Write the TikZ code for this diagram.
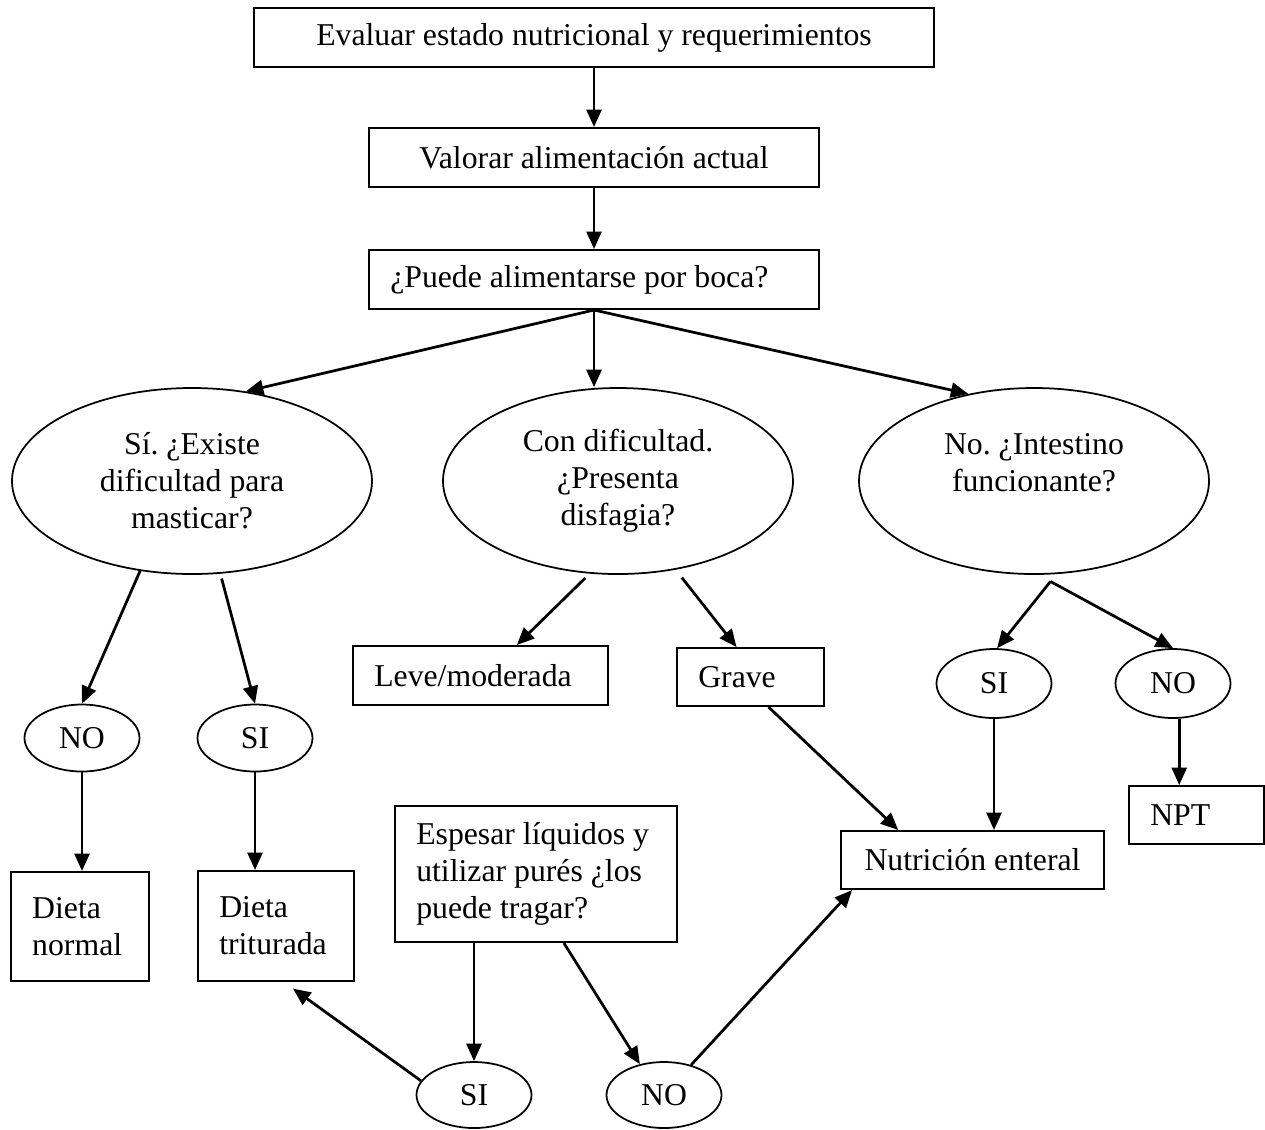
\documentclass[tikz,border=0pt]{standalone}
\usepackage{fontspec}
\setmainfont{Liberation Serif}
\usetikzlibrary{shapes.geometric,arrows.meta}

\begin{document}
\begin{tikzpicture}[x=0.4pt,y=-0.4pt,
  every node/.style={font=\fontsize{12.7}{14.8}\selectfont\frenchspacing},
  box/.style={draw,line width=0.8pt,inner ysep=0pt,align=center},
  lbox/.style={draw,line width=0.8pt,inner xsep=8.5pt,inner ysep=0pt,align=flush left},
  oval/.style={draw,ellipse,line width=0.7pt,inner sep=0pt,align=center},
  arr/.style={line width=1.1pt,-{Triangle[length=7pt,width=6pt]}}]
\useasboundingbox (0,0) rectangle (1265,1129);
\node[box,minimum width=272pt,minimum height=23.6pt] (eval) at (594,37.5) {Evaluar estado nutricional y requerimientos};
\node[box,minimum width=180pt,minimum height=23.6pt] (valor) at (594,157.5) {Valorar alimentación actual};
\node[lbox,text width=163pt,minimum height=23.6pt] (boca) at (594,279.5) {¿Puede alimentarse por boca?};
\node[oval,minimum width=144pt,minimum height=74.4pt] (mastica) at (192,481) {Sí. ¿Existe\\dificultad para\\masticar?};
\node[oval,minimum width=140pt,minimum height=74.4pt] (disfagia) at (618,481) {Con dificultad.\\¿Presenta\\disfagia?};
\node[oval,minimum width=140pt,minimum height=74.4pt] (intestino) at (1034,481) {No. ¿Intestino\\funcionante?\\\mbox{}};
\node[lbox,text width=85pt,minimum height=23.6pt] (leve) at (480.5,675.5) {Leve/moderada};
\node[lbox,text width=41.8pt,minimum height=23.2pt] (grave) at (750.5,677) {Grave};
\node[oval,minimum width=46pt,minimum height=26.8pt] (mastno) at (82,738) {NO};
\node[oval,minimum width=46pt,minimum height=26.8pt] (mastsi) at (255,738) {SI};
\node[oval,minimum width=46pt,minimum height=27.6pt] (intsi) at (994,683.5) {SI};
\node[oval,minimum width=46pt,minimum height=27.6pt] (intno) at (1173,683.5) {NO};
\node[lbox,text width=38.2pt,minimum height=43.6pt] (dnormal) at (80,926.5) {Dieta\\normal};
\node[lbox,text width=45.4pt,minimum height=44pt] (dtritur) at (276,926) {Dieta\\triturada};
\node[lbox,text width=95.8pt,minimum height=54.4pt] (espesar) at (536,874) {Espesar líquidos y\\utilizar purés ¿los\\puede tragar?};
\node[box,minimum width=105.2pt,minimum height=23.2pt] (nutent) at (972.5,860) {Nutrición enteral};
\node[lbox,text width=37pt,minimum height=23.2pt] (npt) at (1196.5,815) {NPT};
\node[oval,minimum width=46pt,minimum height=26.4pt] (tragsi) at (474,1095) {SI};
\node[oval,minimum width=46pt,minimum height=26.4pt] (tragno) at (664,1095) {NO};
\coordinate (fork) at ([yshift=-2.8pt]intestino.-80);
\draw[arr] (eval) -- (valor);
\draw[arr] (valor) -- (boca);
\draw[arr] (boca.south) -- (mastica.59);
\draw[arr] (boca.south) -- (boca.south |- disfagia.north);
\draw[arr] (boca.south) -- (intestino.127);
\draw[arr] (mastica.-120) -- (mastno.north);
\draw[arr,shorten <=2pt] (mastica.-73) -- (mastsi.north);
\draw[arr] (mastno.south) -- (mastno.south |- dnormal.north);
\draw[arr] (mastsi.south) -- (mastsi.south |- dtritur.north);
\draw[arr,shorten <=2.5pt] (disfagia.-107) -- (leve.40);
\draw[arr,shorten <=4pt] (disfagia.-57) -- (grave.115);
\draw[arr] (fork) -- (intsi.85);
\draw[arr] (fork) -- (intno.north);
\draw[arr] (grave.-59) -- (nutent.158);
\draw[arr] (intsi.south) -- (intsi.south |- nutent.north);
\draw[arr] (intno.-80) -- (intno.-80 |- npt.north);
\draw[arr] (tragsi.north |- espesar.south) -- (tragsi.north);
\draw[arr] (espesar.-68) -- (tragno.128);
\draw[arr,shorten >=4.5pt] (tragsi.165) -- (dtritur.-82);
\draw[arr] (tragno.48) -- (nutent.-166);
\end{tikzpicture}
\end{document}
